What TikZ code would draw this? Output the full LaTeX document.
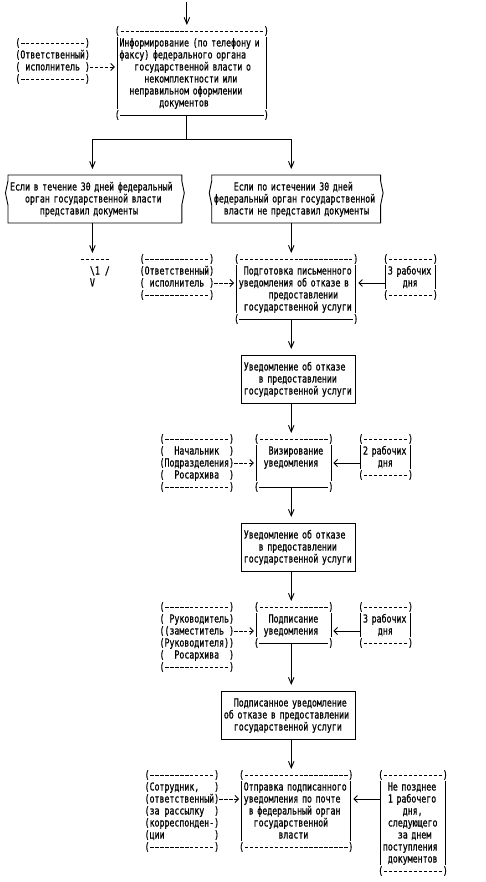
\documentclass[tikz,border=0pt]{standalone}
\usepackage{fontspec}
\setmonofont[FakeStretch=0.75,FakeBold=0.6]{DejaVu Sans Mono}
\usetikzlibrary{arrows.meta,calc}
\ExplSyntaxOn
\cs_new:Npn \mydashes #1 {\prg_replicate:nn {#1} {\hbox~to~4.967pt{\hss\rule[3.05pt]{3.3pt}{0.9pt}\hss}}}
\cs_new:Npn \blanks #1 {\hphantom{\prg_replicate:nn {#1} {x}}}
\ExplSyntaxOff
\newcommand\rs{\rule[-2.5pt]{0pt}{12pt}}
\newcommand\mono{\ttfamily\fontsize{11pt}{12pt}\selectfont\frenchspacing\spaceskip=\fontcharwd\font`x\relax\parindent=0pt\relax}
% frame of a box drawn with brackets: #1 node, #2 number of dashes, #3 s = solid bottom, d = dashed bottom
\newcommand\pframe[3]{%
  \node[brd,anchor=north west] (#1-top) at (#1.north west) {\rs(\mydashes{#2})};
  \draw[ln] ([xshift=2.48pt,yshift=-12pt]#1.north west) -- ([xshift=2.48pt,yshift=12pt]#1.south west);
  \draw[ln] ([xshift=-2.48pt,yshift=-12pt]#1.north east) -- ([xshift=-2.48pt,yshift=12pt]#1.south east);
  \ifx s#3
    \node[brd,anchor=south west] (#1-lp) at (#1.south west) {\rs(};
    \node[brd,anchor=south east] (#1-rp) at (#1.south east) {\rs)};
    \draw[ln] ([xshift=4.967pt,yshift=6pt]#1.south west) -- ([xshift=-4.967pt,yshift=6pt]#1.south east);
  \else
    \node[brd,anchor=south west] (#1-bot) at (#1.south west) {\rs(\mydashes{#2})};
  \fi
}
% frame of a condition box
\newcommand\dframe[1]{%
  \draw[ln] ([yshift=-6pt]#1.north west) -- ([yshift=-6pt]#1.north east) -- ([yshift=-12pt]#1.north east)
    -- ([xshift=2.5pt,yshift=-24pt]#1.north east) -- ([yshift=-36pt]#1.north east) -- ([yshift=6pt]#1.south east)
    -- ([yshift=6pt]#1.south west) -- ([yshift=-36pt]#1.north west) -- ([xshift=-2.5pt,yshift=-24pt]#1.north west)
    -- ([yshift=-12pt]#1.north west) -- cycle;}
\begin{document}
\begin{tikzpicture}[x=1pt,y=-1pt,
  ln/.style={line width=0.9pt},
  varr/.style={ln,-{Straight Barb[length=6.5pt,width=5.5pt]}},
  harr/.style={ln,-{Straight Barb[length=3.5pt,width=7pt]}},
  darr/.style={harr,dash pattern=on 3.5pt off 1.467pt},
  body/.style={inner sep=0pt,outer sep=0pt,align=left,font=\mono},
  brd/.style={inner sep=0pt,outer sep=0pt,font=\mono},
  cbox/.style={body,draw,ln,minimum height=48pt},
]
\fill[white] (0,0) rectangle (485,882);
\useasboundingbox (0,0) rectangle (485,882);

\coordinate (start) at (186.875,2);
\coordinate (cL) at (92.445,0);
\coordinate (cR) at (291.245,0);
\coordinate (J) at (186.875,139);

% first box
\node[body,anchor=north west,minimum width=153.98pt,text width=144.6pt,minimum height=96pt] (A) at (114.81,25)
 {\rs Информирование (по телефону и\\
  \rs факсу) федерального органа\\
  \rs\blanks{3}государственной власти о\\
  \rs\blanks{5}некомплектности или\\
  \rs\blanks{2}неправильном оформлении\\
  \rs\blanks{8}документов};
\pframe{A}{29}{s}
\draw[varr] (start) -- (start |- A.north);

\node[body,anchor=north west] (L1) at (15.41,37)
 {\rs(\mydashes{13})\\
  \rs(Ответственный)\\
  \rs(\blanks{1}исполнитель\blanks{1})\\
  \rs(\mydashes{13})};
\draw[darr] ($(L1.east)+(0,6)$) -- ($(L1.east -| A.west)+(0,6)$);

% conditions
\node[body,anchor=north west,minimum width=173.85pt,text width=169.5pt,minimum height=60pt] (D1) at (7.955,169)
 {\rs Если в течение 30 дней федеральный\\
  \rs\blanks{3}орган государственной власти\\
  \rs\blanks{6}представил документы};
\dframe{D1}
\node[body,anchor=north west,minimum width=168.88pt,text width=164.5pt,minimum height=60pt] (D2) at (211.725,169)
 {\rs\blanks{4}Если по истечении 30 дней\\
  \rs федеральный орган государственной\\
  \rs\blanks{2}власти не представил документы};
\dframe{D2}

\draw[ln] ($(A.south -| J)+(0,-6)$) -- (J);
\draw[varr] (J) -| (D1.north -| cL);
\draw[varr] (J) -| (D2.north -| cR);

% off-page connector 1
\node[body,anchor=north west] (c1) at (80.02,253)
 {\rs\mydashes{6}\\
  \rs\blanks{2}\textbackslash 1\blanks{1}/\\
  \rs\blanks{2}V};
\draw[varr] ($(D1.south -| cL)+(0,-6)$) -- (c1.north -| cL);

% preparation
\node[body,anchor=north west,minimum width=124.18pt,text width=114.8pt,minimum height=72pt] (B) at (234.09,253)
 {\rs\blanks{1}Подготовка письменного\\
  \rs уведомления об отказе в\\
  \rs\blanks{6}предоставлении\\
  \rs\blanks{1}государственной услуги};
\pframe{B}{23}{s}
\draw[varr] ($(D2.south -| cR)+(0,-6)$) -- (B.north -| cR);

\node[body,anchor=north west] (L2) at (139.66,253)
 {\rs(\mydashes{13})\\
  \rs(Ответственный)\\
  \rs(\blanks{1}исполнитель\blanks{1})\\
  \rs(\mydashes{13})};
\draw[darr] ($(L2.east)+(0,6)$) -- ($(L2.east -| B.west)+(0,6)$);

\node[body,anchor=north west,minimum width=54.64pt,text width=45.3pt,minimum height=48pt] (R1) at (383.19,253)
 {\rs 3 рабочих\\
  \rs\blanks{3}дня};
\pframe{R1}{9}{d}
\draw[harr] ($(R1.west)+(2.48,6)$) -- ($(R1.west -| B.east)+(0,6)$);

% notice 1
\node[cbox,anchor=north west,minimum width=114.24pt,text width=109.8pt] (C1) at (241.545,355)
 {\rs Уведомление об отказе\\
  \rs\blanks{3}в предоставлении\\
  \rs государственной услуги};
\draw[varr,shorten >=6pt] ($(B.south -| cR)+(0,-6)$) -- (C1.north -| cR);

% approval
\node[body,anchor=north west,minimum width=79.47pt,text width=70.1pt,minimum height=60pt] (Viz) at (253.97,433)
 {\rs\blanks{2}Визирование\\
  \rs\blanks{1}уведомления\\
  \rs};
\pframe{Viz}{14}{s}
\draw[varr] (C1.south -| cR) -- (Viz.north -| cR);

\node[body,anchor=north west] (L3) at (159.54,433)
 {\rs(\mydashes{13})\\
  \rs(\blanks{2}Начальник\blanks{2})\\
  \rs(Подразделения)\\
  \rs(\blanks{2}Росархива\blanks{2})\\
  \rs(\mydashes{13})};
\draw[darr] (L3.east) -- (L3.east -| Viz.west);

\node[body,anchor=north west,minimum width=54.64pt,text width=45.3pt,minimum height=48pt] (R2) at (358.34,433)
 {\rs 2 рабочих\\
  \rs\blanks{3}дня};
\pframe{R2}{9}{d}
\draw[harr] ($(R2.west)+(2.48,6)$) -- ($(R2.west -| Viz.east)+(0,6)$);

% notice 2
\node[cbox,anchor=north west,minimum width=114.24pt,text width=109.8pt] (C2) at (241.545,523)
 {\rs Уведомление об отказе\\
  \rs\blanks{3}в предоставлении\\
  \rs государственной услуги};
\draw[varr,shorten >=6pt] ($(Viz.south -| cR)+(0,-6)$) -- (C2.north -| cR);

% signing
\node[body,anchor=north west,minimum width=79.47pt,text width=70.1pt,minimum height=48pt] (P) at (253.97,601)
 {\rs\blanks{2}Подписание\\
  \rs\blanks{1}уведомления};
\pframe{P}{14}{s}
\draw[varr] (C2.south -| cR) -- (P.north -| cR);

\node[body,anchor=north west] (L4) at (159.54,601)
 {\rs(\mydashes{13})\\
  \rs(\blanks{1}Руководитель)\\
  \rs((заместитель\blanks{1})\\
  \rs(Руководителя))\\
  \rs(\blanks{2}Росархива\blanks{2})\\
  \rs(\mydashes{13})};
\draw[darr] ($(L4.east)+(0,-6)$) -- ($(L4.east -| P.west)+(0,-6)$);

\node[body,anchor=north west,minimum width=54.64pt,text width=45.3pt,minimum height=48pt] (R3) at (358.34,601)
 {\rs 3 рабочих\\
  \rs\blanks{3}дня};
\pframe{R3}{9}{d}
\draw[harr] ($(R3.west)+(2.48,6)$) -- ($(R3.west -| P.east)+(0,6)$);

% signed notice
\node[cbox,anchor=north west,minimum width=134.11pt,text width=129.7pt] (C3) at (221.665,691)
 {\rs\blanks{2}Подписанное уведомление\\
  \rs об отказе в предоставлении\\
  \rs\blanks{2}государственной услуги};
\draw[varr,shorten >=6pt] ($(P.south -| cR)+(0,-6)$) -- (C3.north -| cR);

% sending
\node[body,anchor=north west,minimum width=114.24pt,text width=104.9pt,minimum height=84pt] (S) at (239.06,769)
 {\rs Отправка подписанного\\
  \rs уведомления по почте\\
  \rs\blanks{1}в федеральный орган\\
  \rs\blanks{2}государственной\\
  \rs\blanks{7}власти};
\pframe{S}{21}{d}
\draw[varr] (C3.south -| cR) -- (S.north -| cR);

\node[body,anchor=north west] (L5) at (144.63,769)
 {\rs(\mydashes{13})\\
  \rs(Сотрудник,\blanks{3})\\
  \rs(ответственный)\\
  \rs(за рассылку\blanks{2})\\
  \rs(корреспонден-)\\
  \rs(ции\blanks{10})\\
  \rs(\mydashes{13})};
\draw[darr] ($(L5.east)+(0,-12)$) -- ($(L5.east -| S.west)+(0,-12)$);

\node[body,anchor=north west,minimum width=69.54pt,text width=60.2pt,minimum height=108pt] (R4) at (378.22,769)
 {\rs\blanks{1}Не позднее\\
  \rs\blanks{1}1 рабочего\\
  \rs\blanks{4}дня,\\
  \rs\blanks{1}следующего\\
  \rs\blanks{3}за днем\\
  \rs поступления\\
  \rs\blanks{1}документов};
\pframe{R4}{12}{d}
\draw[harr] ($(R4.west)+(2.48,-24)$) -- ($(R4.west -| S.east)+(0,-24)$);
\end{tikzpicture}
\end{document}
